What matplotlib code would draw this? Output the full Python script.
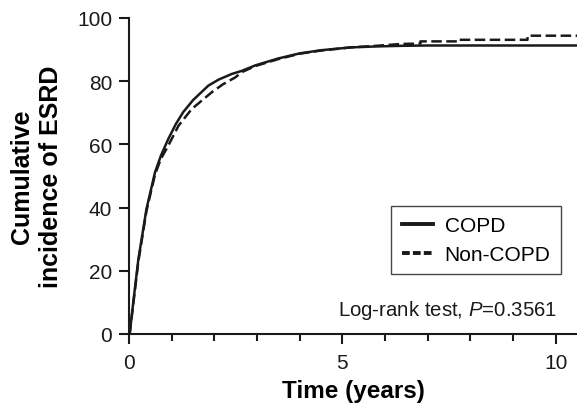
import matplotlib
matplotlib.use("Agg")
import matplotlib.pyplot as plt
from matplotlib.lines import Line2D

plt.rcParams['font.family'] = ['Liberation Sans', 'DejaVu Sans']
plt.rcParams['mathtext.fontset'] = 'custom'
plt.rcParams['mathtext.rm'] = 'Liberation Sans'
plt.rcParams['mathtext.it'] = 'Liberation Sans:italic'

# Data (years, cumulative incidence %)
copd_t = [0, 0.02, 0.1, 0.22, 0.41, 0.61, 0.75, 0.92, 1.1, 1.27, 1.5, 1.86, 2.1,
          2.41, 2.65, 2.96, 3.5, 4.0, 4.5, 5.2, 5.8, 6.4, 7.0, 10.5]
copd_v = [0, 0.5, 10, 23.7, 39.6, 51.2, 56.5, 61.7, 66.5, 70.2, 74.0, 78.6, 80.5,
          82.3, 83.3, 85.0, 87.2, 88.8, 89.8, 90.7, 91.0, 91.2, 91.3, 91.3]

noncopd_t = [0, 0.02, 0.1, 0.22, 0.41, 0.61, 0.75, 0.92, 1.16, 1.47, 1.94, 2.2,
             2.49, 2.65, 2.96, 3.5, 4.0, 4.5, 5.2, 5.8, 6.4, 6.83, 6.83, 7.69,
             7.69, 9.34, 9.34, 10.5]
noncopd_v = [0, 0.5, 9.5, 23.0, 39.0, 50.5, 55.5, 59.6, 65.9, 71.2, 76.5, 79.0,
             81.2, 82.9, 84.8, 87.0, 88.7, 89.7, 90.7, 91.2, 91.8, 91.9, 92.6,
             92.6, 93.1, 93.1, 94.4, 94.4]

series_labels = ["COPD", "Non-COPD"]
x_ticks = [0, 5, 10]
y_ticks = [0, 20, 40, 60, 80, 100]
annotation = "Log-rank test, $P$=0.3561"

fig = plt.figure(figsize=(5.77, 4.10), dpi=100)
ax = fig.add_axes([129/577, 1-335/410, 448/577, 316/410])

ax.plot(copd_t, copd_v, color='#1a1a1a', lw=1.8, solid_joinstyle='round')
ax.plot(noncopd_t, noncopd_v, color='#1a1a1a', lw=1.8, dashes=(4.2, 1.8))

ax.set_xlim(0, 10.5)
ax.set_ylim(0, 100)
ax.set_xticks(x_ticks)
ax.set_xticks(range(0, 11), minor=True)
ax.set_yticks(y_ticks)

for s in ['top', 'right']:
    ax.spines[s].set_visible(False)
for s in ['left', 'bottom']:
    ax.spines[s].set_linewidth(1.5)
    ax.spines[s].set_color('#1a1a1a')

ax.tick_params(axis='both', which='major', direction='out', length=7, width=1.5,
               labelsize=15, color='#1a1a1a', labelcolor='#1a1a1a')
ax.tick_params(axis='x', which='major', pad=7)
ax.tick_params(axis='y', which='major', pad=5)
ax.tick_params(axis='x', which='minor', direction='out', length=5, width=1.5,
               color='#1a1a1a')

ax.set_xlabel("Time (years)", fontsize=17.5, fontweight='bold', labelpad=5)
ax.set_ylabel("Cumulative\nincidence of ESRD", fontsize=18, fontweight='bold',
              labelpad=10, linespacing=1.3)

handles = [Line2D([0], [0], color='#1a1a1a', lw=2.8),
           Line2D([0], [0], color='#1a1a1a', lw=2.8, dashes=(2.0, 0.8))]
leg = ax.legend(handles, series_labels, loc='upper right',
                bbox_to_anchor=(0.964, 0.405), borderaxespad=0, fontsize=15,
                frameon=True, fancybox=False, edgecolor='#1a1a1a',
                handlelength=1.5, handletextpad=0.55, borderpad=0.5,
                labelspacing=0.45)
leg.get_frame().set_linewidth(1.0)

ax.text(0.955, 0.06, annotation, transform=ax.transAxes, ha='right',
        va='baseline', fontsize=14.7, color='#1a1a1a')

fig.savefig("out.png", dpi=100)
